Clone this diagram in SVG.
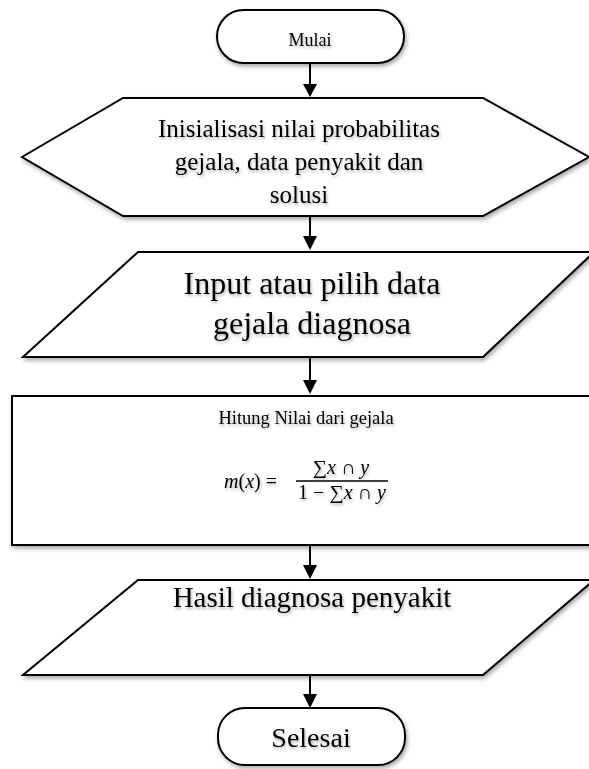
<svg xmlns="http://www.w3.org/2000/svg" width="589" height="769" viewBox="0 0 589 769">
<defs>
<filter id="sh" x="-10%" y="-10%" width="120%" height="130%">
<feDropShadow dx="1.5" dy="2.5" stdDeviation="2" flood-color="#000" flood-opacity="0.35"/>
</filter>
<filter id="tsh" x="-10%" y="-20%" width="120%" height="150%">
<feDropShadow dx="1" dy="2" stdDeviation="1.5" flood-color="#000" flood-opacity="0.3"/>
</filter>
</defs>
<style>
.sh{fill:#fff;stroke:#000;stroke-width:2;filter:url(#sh)}
.t{font-family:"Liberation Serif","Times New Roman",serif;fill:#000;text-anchor:middle;filter:url(#tsh)}
.m{font-family:"Liberation Serif","DejaVu Serif",serif;fill:#000;font-size:20px;filter:url(#tsh)}
.c{stroke:#000;stroke-width:2;fill:none}
.ah{fill:#000}
</style>
<g id="connectors">
<line class="c" x1="310" y1="63" x2="310" y2="86"/>
<path class="ah" d="M303,84 L317,84 L310,97 Z"/>
<line class="c" x1="310" y1="217" x2="310" y2="238"/>
<path class="ah" d="M303,236 L317,236 L310,250 Z"/>
<line class="c" x1="310" y1="358" x2="310" y2="381"/>
<path class="ah" d="M303,380 L317,380 L310,394 Z"/>
<line class="c" x1="310" y1="546" x2="310" y2="566"/>
<path class="ah" d="M303,565 L317,565 L310,579 Z"/>
<line class="c" x1="310" y1="676" x2="310" y2="695"/>
<path class="ah" d="M303,694 L317,694 L310,708 Z"/>
</g>
<g id="mulai">
<rect class="sh" x="217" y="10" width="187" height="53" rx="26.5"/>
<text class="t" x="310" y="46" font-size="18">Mulai</text>
</g>
<g id="inisialisasi">
<polygon class="sh" points="22,157 123,98 483,98 589,157 483,216 123,216"/>
<text class="t" font-size="25"><tspan x="299" y="137">Inisialisasi nilai probabilitas</tspan><tspan x="299" y="170">gejala, data penyakit dan</tspan><tspan x="299" y="203">solusi</tspan></text>
</g>
<g id="input">
<polygon class="sh" points="138,252 594,252 483,357 23,357"/>
<text class="t" font-size="32"><tspan x="312" y="294">Input atau pilih data</tspan><tspan x="312" y="334">gejala diagnosa</tspan></text>
</g>
<g id="hitung">
<rect class="sh" x="12" y="396" width="590" height="149"/>
<text class="t" x="306" y="424" font-size="18.5">Hitung Nilai dari gejala</text>
<text class="m" x="224" y="488" font-size="21"><tspan font-style="italic">m</tspan>(<tspan font-style="italic">x</tspan>) =</text>
<text class="m" x="341" y="474" text-anchor="middle">∑<tspan font-style="italic">x</tspan> ∩ <tspan font-style="italic">y</tspan></text>
<line x1="296" y1="481" x2="388" y2="481" stroke="#000" stroke-width="1.6"/>
<text class="m" x="342" y="499" text-anchor="middle">1 − ∑<tspan font-style="italic">x</tspan> ∩ <tspan font-style="italic">y</tspan></text>
</g>
<g id="hasil">
<polygon class="sh" points="138,580 594,580 483,675 23,675"/>
<text class="t" x="312" y="607" font-size="29">Hasil diagnosa penyakit</text>
</g>
<g id="selesai">
<rect class="sh" x="218" y="708" width="187" height="57" rx="27"/>
<text class="t" x="311" y="747" font-size="28">Selesai</text>
</g>
</svg>
